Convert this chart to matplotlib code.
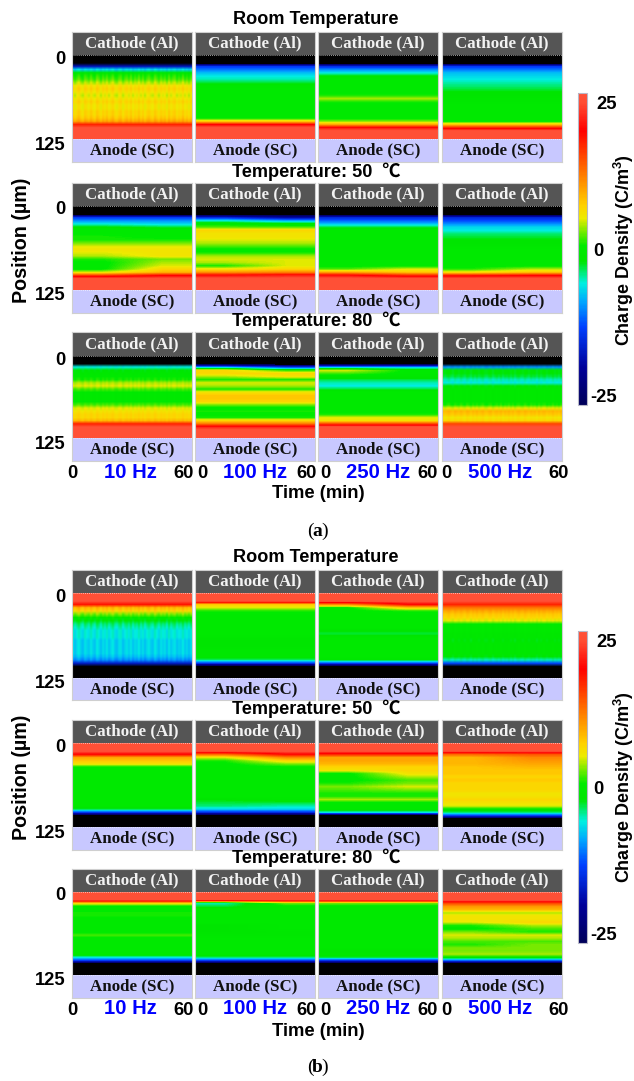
#!/usr/bin/python
import numpy as np
import matplotlib
matplotlib.use("Agg")
import matplotlib.pyplot as plt
from matplotlib.cm import ScalarMappable
from matplotlib.colors import LinearSegmentedColormap, Normalize
from matplotlib.patches import Rectangle
from matplotlib.transforms import ScaledTranslation

W, H = 634, 1081
plt.rcParams['font.family'] = ['Liberation Sans', 'Noto Sans CJK SC', 'DejaVu Sans']
plt.rcParams['mathtext.fontset'] = 'custom'
plt.rcParams['mathtext.bf'] = 'Liberation Sans:bold'

frequencies = ['10 Hz', '100 Hz', '250 Hz', '500 Hz']
temperatures = ['Room Temperature', 'Temperature: 50  ℃', 'Temperature: 80  ℃']
time_ticks = [0, 60]
position_ticks = [0, 125]
bar_ticks = [-25, 0, 25]

# charge density (C/m3) every 5 um through the sample, [at t=0, at t=60]; below -25 prints black
a_rt_10 = [[-30,-30,-30,-18,-7,-1,1,2,4,6,7,6,5,6,7,6,6,7,7,8,10,18,26,26,26,26]]
a_rt_100 = [[-30,-30,-30,-14,-11,-8,-6,-5,-3,-1,0,0,0,0,0,0,0,0,0,0,7,20,26,26,26,26]]
a_rt_250 = [[-30,-30,-30,-15,-10,-6,-2,0,0,0,0,0,1,4,1,0,0,0,0,0,3,10,21,26,26,26]]
a_rt_500 = [[-30,-30,-30,-14,-11,-8,-7,-6,-5,-4,-3,-2,-2,-1,-1,0,0,0,0,0,0,8,18,26,26,26]]

a_50_10 = [[-30,-30,-30,-14,-10,-6,-2,0,0,1,1,3,5,6,5,4,1,0,0,0,5,17,26,26,26,26],
           [-30,-30,-30,-14,-10,-7,-3,0,0,0,1,3,5,6,6,6,3,4,5,7,9,20,26,26,26,26]]
a_50_100 = [[-30,-30,-30,-16,-6,0,2,7,6,6,5,4,2,0,1,4,5,4,1,6,11,21,26,26,26,26],
            [-30,-30,-30,-20,-9,-1,2,7,6,6,5,4,2,0,1,4,5,5,5,7,12,22,26,26,26,26]]
a_50_250 = [[-30,-30,-30,-16,-12,-8,-3,0,0,0,0,0,0,0,0,0,0,0,0,2,10,21,26,26,26,26],
            [-30,-30,-30,-16,-12,-8,-3,0,0,0,0,0,0,0,0,0,0,0,0,5,8,18,26,26,26,26]]
a_50_500 = [[-30,-30,-30,-16,-13,-10,-7,-6,-4,-3,-2,-2,-1,0,0,0,0,0,0,1,6,19,26,26,26,26],
            [-30,-30,-30,-16,-13,-10,-7,-6,-4,-3,-2,-2,-1,0,0,0,0,0,0,4,8,20,26,26,26,26]]

a_80_10 = [[-30,-30,-30,-6,-2,-1,0,1,4,5,2,0,0,0,0,2,5,6,7,7,9,18,26,26,26,26]]
a_80_100 = [[-30,-30,-30,-8,7,7,4,1,5,4,1,6,8,8,7,3,0,1,0,1,7,13,22,26,26,26],
            [-30,-30,-30,-14,1,7,6,1,5,4,1,6,8,8,7,3,0,1,0,1,7,13,22,26,26,26]]
a_80_250 = [[-30,-30,-30,-8,5,2,-1,-3,-5,-6,-3,0,0,0,0,0,0,0,1,5,6,16,26,26,26,26],
            [-30,-30,-30,-8,0,0,-1,-3,-5,-6,-3,0,0,0,0,0,0,0,1,5,6,16,26,26,26,26]]
a_80_500 = [[-30,-30,-30,-10,-2,-2,-3,-5,-6,-2,0,0,0,0,0,1,5,9,8,6,7,16,26,26,26,26]]

b_rt_10 = [[26,26,26,19,9,7,3,0,-2,-4,-5,-6,-6,-6,-7,-7,-7,-7,-7,-8,-10,-17,-30,-30,-30,-30]]
b_rt_100 = [[26,26,26,8,5,1,0,0,0,0,0,0,0,-1,-2,-2,-2,-1,-1,-1,-4,-14,-30,-30,-30,-30]]
b_rt_250 = [[26,26,26,12,0,0,0,0,0,0,0,-2,-3,-1,0,0,0,0,0,0,-2,-13,-30,-30,-30,-30],
            [26,26,26,20,8,1,0,0,0,0,0,-2,-3,-1,0,0,0,0,0,0,-2,-13,-30,-30,-30,-30]]
b_rt_500 = [[26,26,26,18,13,10,8,7,5,0,0,0,-1,-1,-2,-1,-1,-1,-1,-2,-5,-13,-30,-30,-30,-30]]

b_50_10 = [[26,26,26,20,10,8,6,0,0,0,0,0,0,0,0,0,0,0,0,0,-3,-14,-30,-30,-30,-30]]
b_50_100 = [[26,26,26,14,5,1,0,0,0,0,0,0,0,0,0,0,0,-2,-3,-4,-7,-15,-30,-30,-30,-30],
            [26,26,26,20,12,7,3,0,0,0,0,0,0,0,0,0,0,-1,-3,-5,-7,-15,-30,-30,-30,-30]]
b_50_250 = [[26,26,26,18,10,10,9,7,6,0,0,0,1,3,2,1,1,4,0,0,0,-6,-30,-30,-30,-30],
            [26,26,26,18,10,10,9,7,7,6,4,2,3,5,3,1,1,4,0,0,0,-6,-30,-30,-30,-30]]
b_50_500 = [[26,26,26,14,9,9,9,8,8,8,7,8,7,7,7,6,6,7,6,5,0,-4,-14,-30,-30,-30],
            [26,26,26,15,12,11,10,9,8,8,7,8,7,7,7,6,6,7,6,5,0,-4,-14,-30,-30,-30]]

b_80_10 = [[26,26,26,7,0,0,1,1,0,0,0,0,0,2,0,0,0,0,0,0,-6,-14,-30,-30,-30,-30]]
b_80_100 = [[26,26,26,-5,-3,0,0,0,0,0,-2,-2,-2,-1,0,0,0,0,0,0,-4,-14,-30,-30,-30,-30],
            [26,26,26,3,0,0,0,0,0,0,0,0,-1,-1,0,0,0,0,0,0,-4,-14,-30,-30,-30,-30]]
b_80_250 = [[26,26,26,3,0,0,0,0,0,0,0,0,0,0,0,0,0,0,-2,-1,-3,-15,-30,-30,-30,-30]]
b_80_500 = [[26,26,26,16,11,9,4,6,6,5,1,0,3,5,4,2,1,3,3,4,0,-12,-30,-30,-30,-30],
            [26,26,26,16,11,9,4,6,6,7,4,2,1,5,4,2,3,3,3,4,0,-12,-30,-30,-30,-30]]

# column to column flicker seen on the noisier runs
stripes_strong = [.6,-.9,.2,1,-.4,-1,.7,.1,-.6,.9,-.2,-.8,1,.3,-1,.5,-.3,.8,-.7,.2,
                  1,-.5,-.9,.4,.7,-1,.1,.6,-.4,.9,-.8,.3,-.2,1,-.6,.5,-1,.2,.8,-.3,
                  -.7,1,.1,-.9,.6,-.2,.4,-1,.9,-.5,.3,.7,-.8,.1,-.4,1,-.6,.2,-.9,.5]
stripes_weak = [.3,-.4,.1,.5,-.2,-.5,.4,0,-.3,.5,-.1,-.4,.5,.2,-.5,.3,-.2,.4,-.3,.1,
                .5,-.3,-.4,.2,.4,-.5,0,.3,-.2,.5,-.4,.2,-.1,.5,-.3,.3,-.5,.1,.4,-.2,
                -.3,.5,0,-.4,.3,-.1,.2,-.5,.4,-.3,.2,.3,-.4,0,-.2,.5,-.3,.1,-.4,.3]

panels_a = [[a_rt_10, a_rt_100, a_rt_250, a_rt_500],
            [a_50_10, a_50_100, a_50_250, a_50_500],
            [a_80_10, a_80_100, a_80_250, a_80_500]]
panels_b = [[b_rt_10, b_rt_100, b_rt_250, b_rt_500],
            [b_50_10, b_50_100, b_50_250, b_50_500],
            [b_80_10, b_80_100, b_80_250, b_80_500]]
flicker = {id(a_rt_10): stripes_strong, id(a_80_10): stripes_weak, id(a_80_500): stripes_weak,
           id(b_rt_10): stripes_strong, id(b_rt_500): stripes_weak}

# pixel layout
col_x = [(72, 192), (195, 315), (318, 438), (442, 562)]
rows_a = [(32, 55, 139, 162), (183, 206, 290, 313), (332, 356, 438, 461)]
rows_b = [(570, 593, 678, 700), (720, 743, 827, 850), (869, 892, 975, 998)]
tick_shift = [(0, -8), (7, -8), (7, -10), (4, -3)]
hz_x = [130, 255, 378, 500]
bar_label_shift = [-1, -7, 2]

cmap = LinearSegmentedColormap.from_list('charge', [
    (0.00, (0.00, 0.00, 0.35)), (0.12, (0.00, 0.00, 0.60)), (0.25, (0.00, 0.25, 1.00)),
    (0.33, (0.00, 0.65, 1.00)), (0.39, (0.00, 0.94, 0.88)), (0.43, (0.00, 0.92, 0.40)),
    (0.46, (0.00, 0.90, 0.00)), (0.51, (0.00, 0.92, 0.00)), (0.56, (0.50, 0.92, 0.00)),
    (0.60, (0.93, 0.92, 0.00)), (0.64, (1.00, 0.82, 0.00)), (0.72, (1.00, 0.55, 0.00)),
    (0.82, (1.00, 0.20, 0.00)), (0.88, (1.00, 0.00, 0.00)), (0.97, (1.00, 0.30, 0.20)),
    (1.00, (1.00, 0.32, 0.22))])
cmap.set_under('black')
norm = Normalize(-26.6, 26.6)

fig = plt.figure(figsize=(W / 100, H / 100), dpi=100)


def pixel_axes(x0, y0, x1, y1):
    return fig.add_axes([x0 / W, 1 - y1 / H, (x1 - x0) / W, (y1 - y0) / H])


def put_text(x, y, s, **kw):
    fig.text(x / W, 1 - y / H, s, ha=kw.pop('ha', 'center'), va='center', **kw)


def shift(dx, dy):
    return ScaledTranslation(dx / 100, dy / 100, fig.dpi_scale_trans)


def draw_panel(profile, col, row, left, bottom):
    x0, x1 = col_x[col]
    top, heat_top, heat_bot, end = row
    ax = pixel_axes(x0, top, x1, end)
    grid = np.array(profile, dtype=float).T
    if id(profile) in flicker:
        # only the bulk flickers, the electrode layers stay put
        s = np.array(flicker[id(profile)], dtype=float)
        bulk = (np.abs(grid) < 12)
        grid = grid + bulk * s[None, :]
    ax.imshow(grid, cmap=cmap, norm=norm, aspect='auto', extent=(0, 60, 125, 0),
              interpolation='bilinear')
    um = 125 / (heat_bot - heat_top)
    pad_top = (heat_top - top) * um
    pad_bot = (end - heat_bot) * um
    ax.set_xlim(0, 60)
    ax.set_ylim(125 + pad_bot, -pad_top)
    ax.add_patch(Rectangle((0, -pad_top), 60, pad_top, color='#555555', lw=0))
    ax.add_patch(Rectangle((0, 125), 60, pad_bot, color='#c8c8ff', lw=0))
    ax.axhline(0, color='white', lw=0.6, ls=(0, (1, 1.5)), alpha=0.8)
    ax.axhline(125, color='white', lw=0.6, ls=(0, (1, 1.5)), alpha=0.8)
    ax.text(30, -pad_top / 2, 'Cathode (Al)', color='#f2f2f2', family='Liberation Serif',
            weight='bold', size=12.2, ha='center', va='center')
    ax.text(30, 125 + pad_bot / 2, 'Anode (SC)', color='#111111', family='Liberation Serif',
            weight='bold', size=12.2, ha='center', va='center')
    for s in ax.spines.values():
        s.set_color('#cfcfcf')
        s.set_linewidth(0.8)
    ax.tick_params(length=0)
    if left:
        ax.set_yticks(position_ticks)
        ax.tick_params(axis='y', pad=5)
        for lab in ax.get_yticklabels():
            lab.set_fontsize(13.2)
            lab.set_fontweight('bold')
            lab.set_transform(lab.get_transform() + shift(0, -2 if lab.get_text() == '0' else -4))
    else:
        ax.set_yticks([])
    if bottom:
        ax.set_xticks(time_ticks)
        ax.tick_params(axis='x', pad=3)
        for lab, dx in zip(ax.get_xticklabels(), tick_shift[col]):
            lab.set_fontsize(13.2)
            lab.set_fontweight('bold')
            lab.set_transform(lab.get_transform() + shift(dx, 0))
    else:
        ax.set_xticks([])


def draw_figure(panels, rows, bar_top, dy):
    for r, row in enumerate(rows):
        for c in range(4):
            draw_panel(panels[r][c], c, row, c == 0, r == 2)
    for y, name in zip([20, 172, 321], temperatures):
        put_text(316, y + dy, name, size=13.1, weight='bold')
    for x, name in zip(hz_x, frequencies):
        put_text(x, 472 + dy, name, size=14.6, weight='bold', color='#0000ff')
    put_text(318, 494 + dy, 'Time (min)', size=13.2, weight='bold')
    put_text(22, 240 + dy, 'Position (µm)', size=14.2, weight='bold', rotation=90)
    put_text(624, 250 + dy, r'Charge Density (C/m$\mathbf{^3}$)', size=13, weight='bold', rotation=90)
    cax = pixel_axes(578, bar_top, 587, bar_top + 312)
    cb = fig.colorbar(ScalarMappable(norm=norm, cmap=cmap), cax=cax, ticks=bar_ticks)
    cb.outline.set_edgecolor('#b8b8c8')
    cb.outline.set_linewidth(0.8)
    cax.tick_params(length=0, pad=13)
    cax.set_yticklabels(['-25', '0', '25'])
    for lab, dx in zip(cax.get_yticklabels(), bar_label_shift):
        lab.set_fontsize(13.2)
        lab.set_fontweight('bold')
        lab.set_ha('center')
        lab.set_transform(lab.get_transform() + shift(dx, 0))


draw_figure(panels_a, rows_a, 93, 0)
draw_figure(panels_b, rows_b, 631, 537)

for y, letter in [(531, 'a'), (1067, 'b')]:
    put_text(310, y, '(', size=14, family='Liberation Serif')
    put_text(317.5, y, letter, size=14, family='Liberation Serif', weight='bold')
    put_text(325, y, ')', size=14, family='Liberation Serif')

fig.savefig('out.png', dpi=100)
